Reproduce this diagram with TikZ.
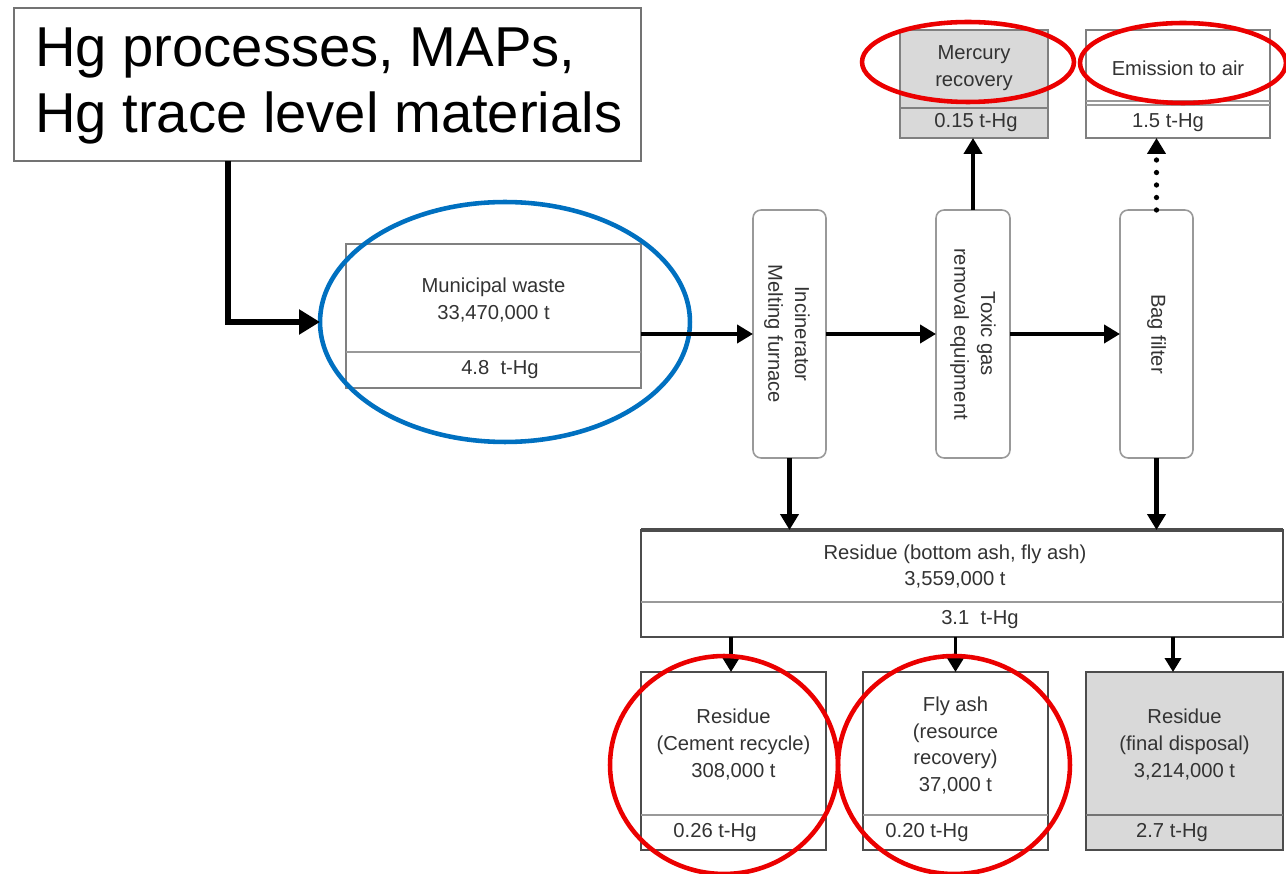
\documentclass[tikz,border=0pt]{standalone}
\usepackage{fontspec}
\setmainfont{Liberation Sans}
\usetikzlibrary{arrows.meta,shapes.geometric,calc}
\newcommand\lblfont{\fontsize{11.5}{15.2}\selectfont}
\newcommand\headlinefont{\fontsize{32}{37}\selectfont}
\definecolor{ringblue}{RGB}{0,112,192}
\definecolor{ringred}{RGB}{235,0,0}
\definecolor{boxgray}{RGB}{217,217,217}

\begin{document}
\begin{tikzpicture}[x=0.02cm, y=-0.02cm,
  every node/.style={inner sep=0pt, outer sep=0pt},
  lbl/.style={font=\lblfont, text=black!80, align=center},
  flowbox/.style={draw=black!50, line width=0.9pt, fill=white},
  darkbox/.style={draw=black!70, line width=1.3pt, fill=white},
  unitbox/.style={draw=black!40, line width=0.9pt, rounded corners=0.16cm, fill=white},
  divider/.style={draw=black!40, line width=1pt},
  arr/.style={line width=2.4pt, -{Triangle[length=0.32cm, width=0.36cm]}},
  arrsmall/.style={line width=2pt, -{Triangle[length=0.28cm, width=0.32cm]}},
  bigarr/.style={line width=3pt, -{Triangle[length=0.42cm, width=0.48cm]}},
  dotarr/.style={line width=3pt, line cap=round, dash pattern=on 0pt off 0.25cm,
                 -{Triangle[length=0.32cm, width=0.36cm]}},
  ring/.style={ellipse, draw, line width=2.6pt, fill=none}]
\useasboundingbox (0,0) rectangle (1286,874);

% source box
\node[draw=black!55, line width=1pt, minimum width=12.54cm, minimum height=3.06cm] (src) at (327.5,84.5) {};
\node[font=\headlinefont, align=left, anchor=west] (srctext) at (35,86)
  {Hg processes, MAPs,\\Hg trace level materials};

% municipal waste
\node[flowbox, minimum width=5.9cm, minimum height=2.88cm] (mw) at (493.5,316) {};
\draw[divider] (mw.west |- 0,352) -- (mw.east |- 0,352);
\node[lbl] (mwtext) at (493.5,300) {Municipal waste\\33,470,000 t};
\node[lbl] (mwhg) at (500,370) {4.8~~t-Hg};

% treatment units
\node[unitbox, minimum width=1.46cm, minimum height=4.96cm] (inc) at (789.5,334) {};
\node[lbl, rotate=-90] (inctext) at (787,334) {Incinerator\\Melting furnace};
\node[unitbox, minimum width=1.48cm, minimum height=4.96cm] (tox) at (973,334) {};
\node[lbl, rotate=-90] (toxtext) at (973,334) {Toxic gas\\removal equipment};
\node[unitbox, minimum width=1.46cm, minimum height=4.96cm] (bag) at (1156.5,334) {};
\node[lbl, rotate=-90] (bagtext) at (1156.5,334) {Bag filter};

% outputs to the top
\node[flowbox, fill=boxgray, minimum width=2.96cm, minimum height=2.16cm] (merc) at (974,84) {};
\draw[divider, draw=black!50] (merc.west |- 0,108) -- (merc.east |- 0,108);
\node[lbl] (merctext) at (974,68.5) {Mercury\\recovery};
\node[lbl] (merchg) at (976,123) {0.15 t-Hg};

\node[flowbox, minimum width=3.68cm, minimum height=2.16cm] (emis) at (1178,84) {};
\draw[divider] (emis.west |- 0,101) -- (emis.east |- 0,101);
\draw[divider] (emis.west |- 0,105) -- (emis.east |- 0,105);
\node[lbl] (emistext) at (1178,68) {Emission to air};
\node[lbl] (emishg) at (1168,123) {1.5 t-Hg};

% residue
\node[darkbox, minimum width=12.84cm, minimum height=2.14cm] (res) at (962,583.5) {};
\draw[line width=2.4pt, draw=black!70] (res.north west) -- (res.north east);
\draw[divider] (res.west |- 0,602) -- (res.east |- 0,602);
\node[lbl] (restext) at (955,566.5) {Residue (bottom ash, fly ash)\\3,559,000 t};
\node[lbl] (reshg) at (980,620) {3.1~~t-Hg};

% final destinations
\node[darkbox, minimum width=3.7cm, minimum height=3.56cm] (b1) at (733.5,761) {};
\draw[divider] (b1.west |- 0,815) -- (b1.east |- 0,815);
\node[lbl] (b1text) at (733.5,744.5) {Residue\\(Cement recycle)\\308,000 t};
\node[lbl] (b1hg) at (715,833) {0.26 t-Hg};

\node[darkbox, minimum width=3.7cm, minimum height=3.56cm] (b2) at (955.5,761) {};
\draw[divider] (b2.west |- 0,815) -- (b2.east |- 0,815);
\node[lbl] (b2text) at (955.5,745.5) {Fly ash\\(resource\\recovery)\\37,000 t};
\node[lbl] (b2hg) at (927,833) {0.20 t-Hg};

\node[darkbox, fill=boxgray, minimum width=3.94cm, minimum height=3.56cm] (b3) at (1184.5,761) {};
\draw[divider, draw=black!55] (b3.west |- 0,815) -- (b3.east |- 0,815);
\node[lbl] (b3text) at (1184.5,744.5) {Residue\\(final disposal)\\3,214,000 t};
\node[lbl] (b3hg) at (1172,833) {2.7 t-Hg};

% flows
\node[ring, draw=ringblue, minimum width=7.4cm, minimum height=4.8cm] (blue) at (505,322) {};
\draw[bigarr] ([xshift=-1.99cm]src.south) |- (blue.west);
\draw[arr] (mw.east |- inc.west) -- (inc.west);
\draw[arr] (inc) -- (tox);
\draw[arr] (tox) -- (bag);
\draw[arr] (tox.north) -- (tox.north |- merc.south);
\draw[dotarr] (bag.north) -- (bag.north |- emis.south);
\draw[arr] (inc.south) -- (inc.south |- res.north);
\draw[arr] (bag.south) -- (bag.south |- res.north);
\coordinate (b1in) at ([xshift=-0.05cm]b1.north);
\coordinate (b3in) at ([xshift=-0.23cm]b3.north);
\draw[arrsmall] (b1in |- res.south) -- (b1in);
\draw[arrsmall] (res.south -| b2.north) -- (b2.north);
\draw[arrsmall] (b3in |- res.south) -- (b3in);

% highlight rings
\node[ring, draw=ringred, minimum width=4.24cm, minimum height=1.6cm] (redmerc) at (968,62) {};
\node[ring, draw=ringred, minimum width=4.12cm, minimum height=1.6cm] (redemis) at (1183,63) {};
\node[ring, draw=ringred, minimum width=4.56cm, minimum height=4.36cm] (redcem) at (724,765) {};
\node[ring, draw=ringred, minimum width=4.64cm, minimum height=4.36cm] (redfly) at (954,765) {};
\end{tikzpicture}
\end{document}
